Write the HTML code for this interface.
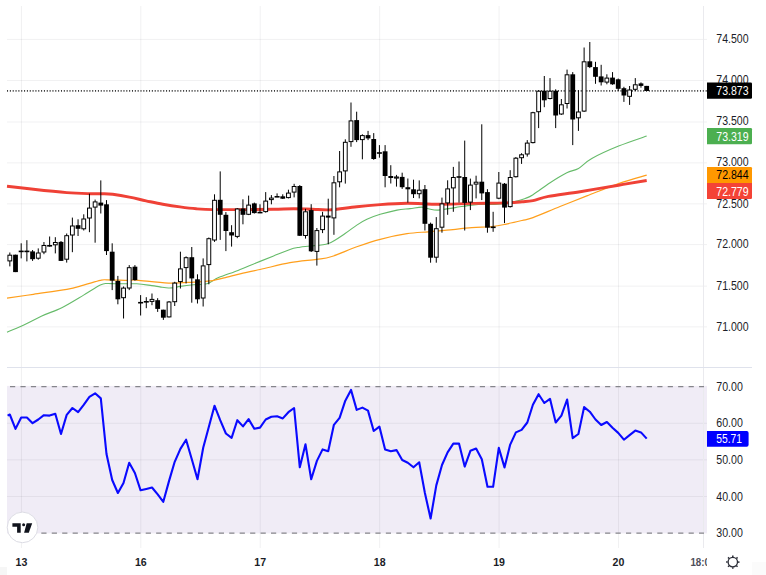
<!DOCTYPE html><html><head><meta charset="utf-8"><title>chart</title>
<style>html,body{margin:0;padding:0;background:#fff}svg{display:block}text{font-family:"Liberation Sans",sans-serif}</style></head><body>
<svg width="766" height="575" viewBox="0 0 766 575">
<rect width="766" height="575" fill="#fff"/>
<rect x="7" y="385.9" width="700" height="147.5" fill="#f0ecf6"/>
<g stroke="rgba(50,50,62,0.068)" stroke-width="1">
<line x1="21.45" y1="6" x2="21.45" y2="548"/>
<line x1="140.856" y1="6" x2="140.856" y2="548"/>
<line x1="260.262" y1="6" x2="260.262" y2="548"/>
<line x1="379.668" y1="6" x2="379.668" y2="548"/>
<line x1="499.074" y1="6" x2="499.074" y2="548"/>
<line x1="618.48" y1="6" x2="618.48" y2="548"/>
<line x1="7" y1="39.4" x2="707" y2="39.4"/>
<line x1="7" y1="80.5" x2="707" y2="80.5"/>
<line x1="7" y1="122.0" x2="707" y2="122.0"/>
<line x1="7" y1="162.9" x2="707" y2="162.9"/>
<line x1="7" y1="203.8" x2="707" y2="203.8"/>
<line x1="7" y1="244.6" x2="707" y2="244.6"/>
<line x1="7" y1="286.1" x2="707" y2="286.1"/>
<line x1="7" y1="326.9" x2="707" y2="326.9"/>
</g>
<g stroke="rgba(50,50,62,0.068)" stroke-width="1">
<line x1="7" y1="423.3" x2="707" y2="423.3"/>
<line x1="7" y1="459.9" x2="707" y2="459.9"/>
<line x1="7" y1="496.5" x2="707" y2="496.5"/>
</g>
<line x1="703.5" y1="6" x2="703.5" y2="548" stroke="#eaeaee" stroke-width="1"/>
<line x1="7" y1="367.5" x2="752" y2="367.5" stroke="#dfe2ec" stroke-width="1.2"/>
<g stroke="#85858b" stroke-width="1.25" stroke-dasharray="5.2 5.24">
<line x1="10" y1="386.5" x2="704" y2="386.5"/><line x1="10" y1="533.2" x2="704" y2="533.2"/></g>
<path fill="none" stroke="#66bb6a" stroke-width="1.1" d="M7.0 332.2 C9.4 331.2 15.9 328.8 21.7 326.1 C27.5 323.4 35.1 319.1 41.8 316.0 C48.5 312.9 54.8 311.2 61.8 307.7 C68.8 304.2 77.2 298.9 83.6 295.1 C90.0 291.3 96.4 287.0 100.3 285.1 C104.2 283.2 104.2 283.7 107.0 283.5 C109.8 283.3 112.0 283.8 117.0 283.8 C122.0 283.9 130.9 283.5 136.7 283.8 C142.5 284.1 147.9 285.1 151.8 285.6 C155.7 286.1 157.2 286.5 160.0 286.9 C162.8 287.3 166.1 287.9 168.5 288.0 C170.9 288.1 172.6 287.9 174.5 287.6 C176.4 287.3 177.0 286.9 180.2 286.4 C183.4 285.9 189.1 285.2 193.6 284.8 C198.1 284.4 202.8 285.0 207.0 283.8 C211.2 282.6 213.4 279.8 218.6 277.6 C223.8 275.4 231.8 272.8 238.0 270.4 C244.2 268.0 250.1 265.4 256.0 263.0 C261.9 260.6 267.9 258.2 273.6 255.9 C279.3 253.6 285.6 250.9 290.0 249.4 C294.4 247.9 296.7 247.8 300.0 247.2 C303.3 246.6 305.3 246.6 310.0 246.0 C314.7 245.4 322.5 245.6 328.4 243.5 C334.2 241.4 340.4 236.6 345.1 233.5 C349.8 230.4 353.2 227.5 356.8 225.1 C360.4 222.7 363.0 221.1 366.9 219.3 C370.8 217.5 375.2 215.8 380.2 214.3 C385.2 212.8 392.0 211.1 397.0 210.1 C402.0 209.1 405.9 209.1 410.0 208.6 C414.1 208.1 418.6 207.1 421.7 207.1 C424.8 207.1 425.6 208.3 428.4 208.8 C431.2 209.3 433.9 210.3 438.4 210.1 C442.8 209.9 449.5 208.4 455.1 207.6 C460.7 206.8 466.8 205.6 471.8 205.1 C476.8 204.6 480.7 204.4 485.2 204.3 C489.7 204.2 493.9 204.7 498.6 204.3 C503.3 203.9 509.2 202.8 513.6 201.8 C518.0 200.8 522.1 199.6 525.3 198.4 C528.5 197.2 528.9 197.3 533.0 194.7 C537.1 192.1 544.5 186.4 550.1 182.7 C555.7 179.0 562.1 175.1 566.8 172.7 C571.5 170.3 574.3 170.9 578.5 168.5 C582.7 166.1 585.1 162.2 591.8 158.5 C598.5 154.8 609.5 149.8 618.6 146.1 C627.8 142.4 642.0 137.8 646.7 136.1"/>
<path fill="none" stroke="#ff9f1c" stroke-width="1.2" d="M7.0 298.2 C11.4 297.6 23.4 295.8 33.4 294.3 C43.4 292.8 58.4 290.8 66.8 289.3 C75.2 287.8 78.0 286.6 83.6 285.1 C89.2 283.6 96.4 281.3 100.3 280.4 C104.2 279.5 102.4 279.8 107.0 279.8 C111.6 279.8 123.0 280.3 128.0 280.4 C132.9 280.4 129.9 279.7 136.7 280.1 C143.4 280.6 159.0 282.8 168.5 283.1 C178.0 283.4 186.6 282.5 193.6 282.1 C200.6 281.7 204.7 281.7 210.3 280.9 C215.9 280.1 222.4 278.2 227.0 277.1 C231.6 276.0 232.5 275.6 238.0 274.3 C243.5 273.0 251.3 271.4 260.0 269.5 C268.7 267.6 280.6 264.4 290.0 262.7 C299.4 261.0 309.7 260.4 316.7 259.4 C323.7 258.4 325.1 258.6 331.8 256.5 C338.5 254.4 348.7 249.7 356.8 246.8 C364.9 243.9 371.8 241.5 380.2 239.3 C388.6 237.1 399.0 234.9 407.0 233.7 C415.0 232.4 421.8 232.4 428.4 231.8 C435.0 231.2 439.6 230.9 446.8 230.2 C454.0 229.5 464.3 228.3 471.8 227.7 C479.3 227.1 486.3 227.1 491.9 226.5 C497.5 225.9 500.3 225.3 505.3 224.3 C510.3 223.3 517.4 221.6 522.0 220.5 C526.6 219.4 526.7 219.9 533.0 217.6 C539.3 215.3 551.0 210.1 560.0 206.5 C569.0 202.9 577.0 199.7 586.8 195.9 C596.6 192.1 608.6 187.1 618.6 183.6 C628.6 180.1 642.0 176.6 646.7 175.2"/>
<path fill="none" stroke="#ef4136" stroke-width="2.9" stroke-linejoin="round" d="M7.0 186.2 C11.4 186.7 23.4 188.1 33.4 189.2 C43.4 190.3 57.3 191.8 66.8 192.6 C76.3 193.3 84.3 193.5 90.2 193.7 C96.1 193.9 98.2 193.6 101.9 193.7 C105.7 193.8 108.1 193.7 112.7 194.3 C117.3 194.9 123.9 196.0 129.4 197.1 C135.0 198.2 140.4 199.6 146.0 200.8 C151.6 202.0 157.1 203.3 162.8 204.3 C168.5 205.3 174.4 206.2 180.0 206.9 C185.6 207.7 190.8 208.4 196.3 208.8 C201.8 209.2 205.7 209.5 213.0 209.6 C220.3 209.7 229.9 209.6 240.0 209.6 C250.1 209.6 264.6 209.4 273.5 209.3 C282.4 209.2 286.2 208.8 293.6 208.8 C301.0 208.8 311.6 209.3 318.0 209.5 C324.4 209.7 325.3 210.2 331.8 209.7 C338.3 209.2 348.7 207.5 356.8 206.7 C364.9 205.8 371.8 205.2 380.2 204.6 C388.6 204.0 397.3 203.4 407.0 203.3 C416.7 203.2 427.6 204.3 438.4 204.3 C449.2 204.3 460.6 203.6 471.8 203.4 C483.0 203.2 496.9 203.2 505.3 202.9 C513.7 202.6 517.4 202.2 522.0 201.8 C526.6 201.4 528.6 201.5 533.0 200.6 C537.4 199.7 540.5 197.9 548.4 196.4 C556.2 194.9 568.4 193.6 580.1 191.7 C591.8 189.8 607.5 187.1 618.6 185.2 C629.7 183.3 642.0 181.3 646.7 180.5"/>
<line x1="7" y1="90.9" x2="707" y2="90.9" stroke="#3a3a3a" stroke-width="1.65" stroke-dasharray="1.05 1.79"/>
<g stroke="#000" stroke-width="1">
<line x1="9.83" y1="252.5" x2="9.83" y2="266.4"/>
<rect x="7.93" y="255.2" width="3.80" height="5.7" fill="#fff"/>
<line x1="15.51" y1="254.7" x2="15.51" y2="272.1"/>
<rect x="13.11" y="254.7" width="4.80" height="17.4" fill="#000" stroke="none"/>
<line x1="21.20" y1="243.3" x2="21.20" y2="258.4"/>
<line x1="18.70" y1="251.4" x2="23.70" y2="251.4" stroke-width="1.6"/>
<line x1="26.89" y1="240.2" x2="26.89" y2="261.4"/>
<line x1="24.39" y1="251.4" x2="29.39" y2="251.4" stroke-width="1.6"/>
<line x1="32.57" y1="250.0" x2="32.57" y2="260.9"/>
<rect x="30.17" y="251.4" width="4.80" height="7.8" fill="#000" stroke="none"/>
<line x1="38.26" y1="248.4" x2="38.26" y2="259.7"/>
<rect x="36.36" y="253.0" width="3.80" height="5.2" fill="#fff"/>
<line x1="43.94" y1="242.0" x2="43.94" y2="254.2"/>
<rect x="42.04" y="245.5" width="3.80" height="6.5" fill="#fff"/>
<line x1="49.63" y1="236.5" x2="49.63" y2="246.7"/>
<line x1="47.13" y1="245.8" x2="52.13" y2="245.8" stroke-width="1.6"/>
<line x1="55.32" y1="237.2" x2="55.32" y2="253.4"/>
<rect x="53.42" y="242.5" width="3.80" height="2.3" fill="#fff"/>
<line x1="61.00" y1="241.0" x2="61.00" y2="260.9"/>
<rect x="58.60" y="241.9" width="4.80" height="19.0" fill="#000" stroke="none"/>
<line x1="66.69" y1="233.5" x2="66.69" y2="262.6"/>
<rect x="64.79" y="235.7" width="3.80" height="23.5" fill="#fff"/>
<line x1="72.37" y1="217.6" x2="72.37" y2="252.2"/>
<rect x="70.47" y="226.0" width="3.80" height="9.0" fill="#fff"/>
<line x1="78.06" y1="219.3" x2="78.06" y2="236.0"/>
<rect x="75.66" y="225.2" width="4.80" height="3.6" fill="#000" stroke="none"/>
<line x1="83.75" y1="214.3" x2="83.75" y2="230.5"/>
<rect x="81.85" y="219.0" width="3.80" height="9.8" fill="#fff"/>
<line x1="89.43" y1="193.7" x2="89.43" y2="232.2"/>
<rect x="87.53" y="208.1" width="3.80" height="9.9" fill="#fff"/>
<line x1="95.12" y1="199.6" x2="95.12" y2="242.7"/>
<rect x="93.22" y="201.9" width="3.80" height="5.2" fill="#fff"/>
<line x1="100.80" y1="180.4" x2="100.80" y2="213.5"/>
<rect x="98.40" y="202.6" width="4.80" height="3.0" fill="#000" stroke="none"/>
<line x1="106.49" y1="200.1" x2="106.49" y2="255.0"/>
<rect x="104.09" y="204.3" width="4.80" height="46.8" fill="#000" stroke="none"/>
<line x1="112.18" y1="243.3" x2="112.18" y2="290.1"/>
<rect x="109.78" y="251.7" width="4.80" height="28.9" fill="#000" stroke="none"/>
<line x1="117.86" y1="275.9" x2="117.86" y2="304.3"/>
<rect x="115.46" y="280.9" width="4.80" height="18.4" fill="#000" stroke="none"/>
<line x1="123.55" y1="286.5" x2="123.55" y2="318.5"/>
<rect x="121.65" y="288.1" width="3.80" height="9.6" fill="#fff"/>
<line x1="129.23" y1="265.1" x2="129.23" y2="290.1"/>
<rect x="127.33" y="267.7" width="3.80" height="20.3" fill="#fff"/>
<line x1="134.92" y1="265.1" x2="134.92" y2="280.6"/>
<rect x="132.52" y="266.7" width="4.80" height="13.4" fill="#000" stroke="none"/>
<line x1="140.61" y1="295.1" x2="140.61" y2="315.5"/>
<line x1="138.11" y1="302.7" x2="143.11" y2="302.7" stroke-width="1.6"/>
<line x1="146.29" y1="297.2" x2="146.29" y2="308.2"/>
<line x1="143.79" y1="301.8" x2="148.79" y2="301.8" stroke-width="1.6"/>
<line x1="151.98" y1="293.5" x2="151.98" y2="305.2"/>
<rect x="150.08" y="299.4" width="3.80" height="2.0" fill="#fff"/>
<line x1="157.66" y1="298.2" x2="157.66" y2="311.9"/>
<rect x="155.26" y="300.2" width="4.80" height="8.7" fill="#000" stroke="none"/>
<line x1="163.35" y1="309.7" x2="163.35" y2="319.9"/>
<rect x="160.95" y="309.7" width="4.80" height="8.0" fill="#000" stroke="none"/>
<line x1="169.04" y1="301.0" x2="169.04" y2="317.4"/>
<rect x="167.14" y="302.0" width="3.80" height="14.9" fill="#fff"/>
<line x1="174.72" y1="281.8" x2="174.72" y2="306.0"/>
<rect x="172.82" y="283.1" width="3.80" height="18.6" fill="#fff"/>
<line x1="180.41" y1="251.7" x2="180.41" y2="288.5"/>
<rect x="178.51" y="268.9" width="3.80" height="12.7" fill="#fff"/>
<line x1="186.09" y1="256.4" x2="186.09" y2="283.4"/>
<rect x="184.19" y="257.7" width="3.80" height="9.9" fill="#fff"/>
<line x1="191.78" y1="247.0" x2="191.78" y2="302.7"/>
<rect x="189.38" y="257.2" width="4.80" height="21.2" fill="#000" stroke="none"/>
<line x1="197.47" y1="274.3" x2="197.47" y2="303.5"/>
<rect x="195.07" y="279.3" width="4.80" height="20.0" fill="#000" stroke="none"/>
<line x1="203.15" y1="258.4" x2="203.15" y2="306.5"/>
<rect x="201.25" y="265.9" width="3.80" height="32.1" fill="#fff"/>
<line x1="208.84" y1="237.5" x2="208.84" y2="284.3"/>
<rect x="206.94" y="238.7" width="3.80" height="25.9" fill="#fff"/>
<line x1="214.52" y1="194.3" x2="214.52" y2="241.9"/>
<rect x="212.62" y="200.3" width="3.80" height="39.7" fill="#fff"/>
<line x1="220.21" y1="171.4" x2="220.21" y2="239.9"/>
<rect x="217.81" y="199.8" width="4.80" height="15.0" fill="#000" stroke="none"/>
<line x1="225.90" y1="212.1" x2="225.90" y2="251.1"/>
<rect x="223.50" y="214.8" width="4.80" height="16.2" fill="#000" stroke="none"/>
<line x1="231.58" y1="225.2" x2="231.58" y2="246.6"/>
<rect x="229.18" y="232.2" width="4.80" height="3.3" fill="#000" stroke="none"/>
<line x1="237.27" y1="208.1" x2="237.27" y2="238.2"/>
<rect x="235.37" y="209.0" width="3.80" height="27.4" fill="#fff"/>
<line x1="242.95" y1="199.3" x2="242.95" y2="224.3"/>
<rect x="240.55" y="208.5" width="4.80" height="6.3" fill="#000" stroke="none"/>
<line x1="248.64" y1="195.6" x2="248.64" y2="215.1"/>
<rect x="246.74" y="205.1" width="3.80" height="9.2" fill="#fff"/>
<line x1="254.33" y1="202.6" x2="254.33" y2="213.5"/>
<rect x="251.93" y="203.4" width="4.80" height="9.7" fill="#000" stroke="none"/>
<line x1="260.01" y1="204.3" x2="260.01" y2="213.1"/>
<line x1="257.51" y1="212.6" x2="262.51" y2="212.6" stroke-width="1.6"/>
<line x1="265.70" y1="192.1" x2="265.70" y2="212.6"/>
<rect x="263.80" y="201.1" width="3.80" height="10.5" fill="#fff"/>
<line x1="271.38" y1="195.1" x2="271.38" y2="204.3"/>
<rect x="269.48" y="198.1" width="3.80" height="1.5" fill="#fff"/>
<line x1="277.07" y1="193.4" x2="277.07" y2="197.1"/>
<line x1="274.57" y1="196.8" x2="279.57" y2="196.8" stroke-width="1.6"/>
<line x1="282.76" y1="194.3" x2="282.76" y2="199.0"/>
<rect x="280.36" y="196.3" width="4.80" height="2.4" fill="#000" stroke="none"/>
<line x1="288.44" y1="189.7" x2="288.44" y2="198.4"/>
<rect x="286.54" y="193.1" width="3.80" height="4.5" fill="#fff"/>
<line x1="294.13" y1="183.8" x2="294.13" y2="197.4"/>
<rect x="292.23" y="186.5" width="3.80" height="5.6" fill="#fff"/>
<line x1="299.81" y1="185.1" x2="299.81" y2="236.0"/>
<rect x="297.41" y="186.0" width="4.80" height="49.8" fill="#000" stroke="none"/>
<line x1="305.50" y1="208.8" x2="305.50" y2="238.6"/>
<rect x="303.60" y="211.8" width="3.80" height="23.7" fill="#fff"/>
<line x1="311.19" y1="204.2" x2="311.19" y2="252.0"/>
<rect x="308.79" y="210.1" width="4.80" height="41.2" fill="#000" stroke="none"/>
<line x1="316.87" y1="228.0" x2="316.87" y2="265.6"/>
<rect x="314.97" y="230.6" width="3.80" height="20.8" fill="#fff"/>
<line x1="322.56" y1="211.8" x2="322.56" y2="233.1"/>
<rect x="320.66" y="216.1" width="3.80" height="13.5" fill="#fff"/>
<line x1="328.24" y1="198.7" x2="328.24" y2="244.3"/>
<rect x="325.84" y="215.6" width="4.80" height="2.0" fill="#000" stroke="none"/>
<line x1="333.93" y1="176.0" x2="333.93" y2="234.8"/>
<rect x="332.03" y="182.8" width="3.80" height="35.1" fill="#fff"/>
<line x1="339.62" y1="151.0" x2="339.62" y2="187.3"/>
<rect x="337.72" y="171.9" width="3.80" height="9.9" fill="#fff"/>
<line x1="345.30" y1="139.3" x2="345.30" y2="183.6"/>
<rect x="343.40" y="142.3" width="3.80" height="28.6" fill="#fff"/>
<line x1="350.99" y1="102.5" x2="350.99" y2="146.8"/>
<rect x="349.09" y="120.9" width="3.80" height="20.7" fill="#fff"/>
<line x1="356.67" y1="111.7" x2="356.67" y2="142.1"/>
<rect x="354.27" y="120.1" width="4.80" height="20.0" fill="#000" stroke="none"/>
<line x1="362.36" y1="134.3" x2="362.36" y2="159.3"/>
<rect x="360.46" y="135.6" width="3.80" height="4.0" fill="#fff"/>
<line x1="368.05" y1="130.9" x2="368.05" y2="140.1"/>
<rect x="365.65" y="135.1" width="4.80" height="3.3" fill="#000" stroke="none"/>
<line x1="373.73" y1="133.1" x2="373.73" y2="159.8"/>
<rect x="371.33" y="139.0" width="4.80" height="20.0" fill="#000" stroke="none"/>
<line x1="379.42" y1="145.1" x2="379.42" y2="157.7"/>
<line x1="376.92" y1="153.0" x2="381.92" y2="153.0" stroke-width="1.6"/>
<line x1="385.10" y1="145.1" x2="385.10" y2="187.3"/>
<rect x="382.70" y="151.3" width="4.80" height="24.7" fill="#000" stroke="none"/>
<line x1="390.79" y1="165.2" x2="390.79" y2="183.5"/>
<rect x="388.39" y="176.0" width="4.80" height="2.0" fill="#000" stroke="none"/>
<line x1="396.48" y1="174.9" x2="396.48" y2="186.6"/>
<rect x="394.58" y="177.0" width="3.80" height="1.1" fill="#fff"/>
<line x1="402.16" y1="172.7" x2="402.16" y2="188.9"/>
<rect x="399.76" y="176.9" width="4.80" height="10.3" fill="#000" stroke="none"/>
<line x1="407.85" y1="178.5" x2="407.85" y2="202.6"/>
<rect x="405.45" y="187.2" width="4.80" height="2.1" fill="#000" stroke="none"/>
<line x1="413.53" y1="179.7" x2="413.53" y2="198.0"/>
<rect x="411.13" y="189.3" width="4.80" height="4.9" fill="#000" stroke="none"/>
<line x1="419.22" y1="180.4" x2="419.22" y2="198.4"/>
<rect x="417.32" y="190.2" width="3.80" height="3.5" fill="#fff"/>
<line x1="424.91" y1="185.0" x2="424.91" y2="230.5"/>
<rect x="422.51" y="189.2" width="4.80" height="34.6" fill="#000" stroke="none"/>
<line x1="430.59" y1="222.6" x2="430.59" y2="262.7"/>
<rect x="428.19" y="223.8" width="4.80" height="33.9" fill="#000" stroke="none"/>
<line x1="436.28" y1="217.1" x2="436.28" y2="262.7"/>
<rect x="434.38" y="228.7" width="3.80" height="28.5" fill="#fff"/>
<line x1="441.96" y1="197.6" x2="441.96" y2="232.7"/>
<rect x="440.06" y="203.9" width="3.80" height="23.3" fill="#fff"/>
<line x1="447.65" y1="180.3" x2="447.65" y2="214.8"/>
<rect x="445.75" y="188.9" width="3.80" height="14.0" fill="#fff"/>
<line x1="453.34" y1="166.9" x2="453.34" y2="211.8"/>
<rect x="451.44" y="177.5" width="3.80" height="10.4" fill="#fff"/>
<line x1="459.02" y1="161.5" x2="459.02" y2="202.6"/>
<line x1="456.52" y1="177.0" x2="461.52" y2="177.0" stroke-width="1.6"/>
<line x1="464.71" y1="140.6" x2="464.71" y2="230.5"/>
<rect x="462.31" y="177.0" width="4.80" height="25.9" fill="#000" stroke="none"/>
<line x1="470.39" y1="178.6" x2="470.39" y2="210.1"/>
<rect x="468.49" y="185.1" width="3.80" height="17.0" fill="#fff"/>
<line x1="476.08" y1="175.7" x2="476.08" y2="198.4"/>
<rect x="474.18" y="182.2" width="3.80" height="1.9" fill="#fff"/>
<line x1="481.77" y1="124.3" x2="481.77" y2="200.1"/>
<rect x="479.37" y="181.7" width="4.80" height="11.7" fill="#000" stroke="none"/>
<line x1="487.45" y1="189.2" x2="487.45" y2="232.7"/>
<rect x="485.05" y="192.1" width="4.80" height="35.6" fill="#000" stroke="none"/>
<line x1="493.14" y1="211.8" x2="493.14" y2="231.8"/>
<line x1="490.64" y1="227.3" x2="495.64" y2="227.3" stroke-width="1.6"/>
<line x1="498.82" y1="172.0" x2="498.82" y2="199.2"/>
<rect x="496.92" y="183.1" width="3.80" height="15.1" fill="#fff"/>
<line x1="504.51" y1="183.0" x2="504.51" y2="223.1"/>
<rect x="502.11" y="183.7" width="4.80" height="23.9" fill="#000" stroke="none"/>
<line x1="510.20" y1="170.2" x2="510.20" y2="207.5"/>
<rect x="508.30" y="177.5" width="3.80" height="29.1" fill="#fff"/>
<line x1="515.88" y1="157.0" x2="515.88" y2="177.5"/>
<rect x="513.98" y="158.2" width="3.80" height="18.5" fill="#fff"/>
<line x1="521.57" y1="153.2" x2="521.57" y2="163.9"/>
<rect x="519.67" y="154.8" width="3.80" height="2.9" fill="#fff"/>
<line x1="527.25" y1="140.1" x2="527.25" y2="156.6"/>
<rect x="525.35" y="143.1" width="3.80" height="10.9" fill="#fff"/>
<line x1="532.94" y1="111.8" x2="532.94" y2="143.4"/>
<rect x="531.04" y="112.7" width="3.80" height="29.9" fill="#fff"/>
<line x1="538.63" y1="90.2" x2="538.63" y2="128.1"/>
<rect x="536.73" y="91.2" width="3.80" height="20.5" fill="#fff"/>
<line x1="544.31" y1="76.0" x2="544.31" y2="107.2"/>
<rect x="541.91" y="90.7" width="4.80" height="9.6" fill="#000" stroke="none"/>
<line x1="550.00" y1="78.1" x2="550.00" y2="99.4"/>
<rect x="548.10" y="91.2" width="3.80" height="7.3" fill="#fff"/>
<line x1="555.68" y1="89.3" x2="555.68" y2="128.1"/>
<rect x="553.28" y="90.7" width="4.80" height="24.8" fill="#000" stroke="none"/>
<line x1="561.37" y1="99.0" x2="561.37" y2="114.9"/>
<rect x="559.47" y="104.8" width="3.80" height="9.2" fill="#fff"/>
<line x1="567.06" y1="69.6" x2="567.06" y2="108.5"/>
<rect x="565.16" y="74.8" width="3.80" height="28.7" fill="#fff"/>
<line x1="572.74" y1="72.1" x2="572.74" y2="145.1"/>
<rect x="570.34" y="74.3" width="4.80" height="45.2" fill="#000" stroke="none"/>
<line x1="578.43" y1="90.2" x2="578.43" y2="130.9"/>
<rect x="576.53" y="112.0" width="3.80" height="5.8" fill="#fff"/>
<line x1="584.11" y1="47.5" x2="584.11" y2="111.9"/>
<rect x="582.21" y="61.8" width="3.80" height="49.3" fill="#fff"/>
<line x1="589.80" y1="42.0" x2="589.80" y2="68.1"/>
<rect x="587.40" y="61.3" width="4.80" height="5.8" fill="#000" stroke="none"/>
<line x1="595.49" y1="61.8" x2="595.49" y2="83.8"/>
<rect x="593.09" y="67.1" width="4.80" height="9.7" fill="#000" stroke="none"/>
<line x1="601.17" y1="64.8" x2="601.17" y2="85.5"/>
<rect x="598.77" y="76.4" width="4.80" height="5.9" fill="#000" stroke="none"/>
<line x1="606.86" y1="74.3" x2="606.86" y2="84.3"/>
<rect x="604.96" y="78.1" width="3.80" height="4.0" fill="#fff"/>
<line x1="612.54" y1="72.1" x2="612.54" y2="84.8"/>
<rect x="610.14" y="77.6" width="4.80" height="6.7" fill="#000" stroke="none"/>
<line x1="618.23" y1="78.5" x2="618.23" y2="91.0"/>
<rect x="615.83" y="79.3" width="4.80" height="9.5" fill="#000" stroke="none"/>
<line x1="623.92" y1="86.8" x2="623.92" y2="101.9"/>
<rect x="621.52" y="88.2" width="4.80" height="7.3" fill="#000" stroke="none"/>
<line x1="629.60" y1="86.0" x2="629.60" y2="104.9"/>
<rect x="627.70" y="90.0" width="3.80" height="6.3" fill="#fff"/>
<line x1="635.29" y1="78.1" x2="635.29" y2="91.0"/>
<rect x="633.39" y="84.8" width="3.80" height="4.5" fill="#fff"/>
<line x1="640.97" y1="82.4" x2="640.97" y2="87.7"/>
<rect x="638.57" y="83.4" width="4.80" height="2.5" fill="#000" stroke="none"/>
<line x1="646.66" y1="85.9" x2="646.66" y2="91.0"/>
<rect x="644.26" y="85.9" width="4.80" height="5.1" fill="#000" stroke="none"/>
</g>
<polyline fill="none" stroke="#0a0aff" stroke-width="2.1" stroke-linejoin="round" points="7.6,415.6 9.8,414.5 15.5,428.9 21.2,417.5 26.9,417.5 32.6,423.2 38.3,419.5 43.9,415.2 49.6,415.6 55.3,413.8 61.0,434.0 66.7,414.9 72.4,408.0 78.1,412.2 83.7,404.8 89.4,396.8 95.1,393.3 100.8,398.4 106.5,454.0 112.2,480.0 117.9,493.0 123.5,483.0 129.2,462.7 134.9,473.0 140.6,490.3 146.3,488.9 152.0,487.5 157.7,494.4 163.3,501.8 169.0,481.1 174.7,461.8 180.4,448.9 186.1,439.7 191.8,459.3 197.5,479.3 203.2,447.8 208.8,427.1 214.5,405.7 220.2,420.2 225.9,433.5 231.6,437.9 237.3,420.2 243.0,426.4 248.6,419.1 254.3,428.7 260.0,427.6 265.7,419.5 271.4,416.8 277.1,416.3 282.8,418.4 288.4,412.2 294.1,408.0 299.8,467.3 305.5,444.3 311.2,479.3 316.9,460.9 322.6,449.4 328.2,451.2 333.9,424.8 339.6,417.9 345.3,400.7 351.0,389.9 356.7,409.9 362.4,407.6 368.0,410.6 373.7,431.0 379.4,426.6 385.1,449.4 390.8,451.2 396.5,450.1 402.2,460.0 407.8,462.7 413.5,467.3 419.2,462.3 424.9,493.0 430.6,518.5 436.3,485.4 442.0,465.0 447.6,452.4 453.3,443.6 459.0,443.6 464.7,466.6 470.4,450.8 476.1,448.5 481.8,459.3 487.5,486.8 493.1,486.8 498.8,447.9 504.5,467.4 510.2,444.6 515.9,432.4 521.6,429.9 527.3,422.5 532.9,404.8 538.6,394.2 544.3,403.0 550.0,398.8 555.7,422.5 561.4,415.6 567.1,399.5 572.7,438.1 578.4,434.0 584.1,407.1 589.8,411.7 595.5,419.5 601.2,425.0 606.9,422.0 612.5,427.8 618.2,432.9 623.9,439.7 629.6,435.1 635.3,430.6 641.0,432.4 646.7,438.6"/>
<text x="716.3" y="42.75" font-size="12" fill="#1b1d27" font-weight="normal" textLength="32.3" lengthAdjust="spacingAndGlyphs">74.500</text>
<text x="716.3" y="84.15" font-size="12" fill="#1b1d27" font-weight="normal" textLength="32.3" lengthAdjust="spacingAndGlyphs">74.000</text>
<text x="716.3" y="125.45" font-size="12" fill="#1b1d27" font-weight="normal" textLength="32.3" lengthAdjust="spacingAndGlyphs">73.500</text>
<text x="716.3" y="166.25" font-size="12" fill="#1b1d27" font-weight="normal" textLength="32.3" lengthAdjust="spacingAndGlyphs">73.000</text>
<text x="716.3" y="207.55" font-size="12" fill="#1b1d27" font-weight="normal" textLength="32.3" lengthAdjust="spacingAndGlyphs">72.500</text>
<text x="716.3" y="248.45" font-size="12" fill="#1b1d27" font-weight="normal" textLength="32.3" lengthAdjust="spacingAndGlyphs">72.000</text>
<text x="716.3" y="289.85" font-size="12" fill="#1b1d27" font-weight="normal" textLength="32.3" lengthAdjust="spacingAndGlyphs">71.500</text>
<text x="716.3" y="330.95" font-size="12" fill="#1b1d27" font-weight="normal" textLength="32.3" lengthAdjust="spacingAndGlyphs">71.000</text>
<text x="716.3" y="390.70" font-size="12" fill="#1b1d27" font-weight="normal" textLength="26.6" lengthAdjust="spacingAndGlyphs">70.00</text>
<text x="716.3" y="426.70" font-size="12" fill="#1b1d27" font-weight="normal" textLength="26.6" lengthAdjust="spacingAndGlyphs">60.00</text>
<text x="716.3" y="463.65" font-size="12" fill="#1b1d27" font-weight="normal" textLength="26.6" lengthAdjust="spacingAndGlyphs">50.00</text>
<text x="716.3" y="500.85" font-size="12" fill="#1b1d27" font-weight="normal" textLength="26.6" lengthAdjust="spacingAndGlyphs">40.00</text>
<text x="716.3" y="536.85" font-size="12" fill="#1b1d27" font-weight="normal" textLength="26.6" lengthAdjust="spacingAndGlyphs">30.00</text>
<path d="M707 82.50 H750.7 a1.3 1.3 0 0 1 1.3 1.3 V97.40 a1.3 1.3 0 0 1 -1.3 1.3 H707 Z" fill="#000"/>
<text x="716.3" y="95.40" font-size="12" fill="#fff" font-weight="normal" textLength="32.3" lengthAdjust="spacingAndGlyphs">73.873</text>
<path d="M707 128.05 H750.7 a1.3 1.3 0 0 1 1.3 1.3 V142.95 a1.3 1.3 0 0 1 -1.3 1.3 H707 Z" fill="#4caf50"/>
<text x="716.3" y="140.50" font-size="12" fill="#fff" font-weight="normal" textLength="32.3" lengthAdjust="spacingAndGlyphs">73.319</text>
<path d="M707 166.90 H750.7 a1.3 1.3 0 0 1 1.3 1.3 V183.10 H707 Z" fill="#ff9800"/>
<text x="716.3" y="179.25" font-size="12" fill="#000" font-weight="normal" textLength="32.3" lengthAdjust="spacingAndGlyphs">72.844</text>
<path d="M707 182.90 H752 V197.80 a1.3 1.3 0 0 1 -1.3 1.3 H707 Z" fill="#f44336"/>
<text x="716.3" y="195.65" font-size="12" fill="#fff" font-weight="normal" textLength="32.3" lengthAdjust="spacingAndGlyphs">72.779</text>
<path d="M707 431.10 H746.6 a2 2 0 0 1 2 2 V444.80 a2 2 0 0 1 -2 2 H707 Z" fill="#0000ff"/>
<text x="716.3" y="443.20" font-size="12" fill="#fff" font-weight="normal" textLength="25.7" lengthAdjust="spacingAndGlyphs">55.71</text>
<text x="21.45" y="565.5" font-size="11" font-weight="bold" fill="#1b1d27" text-anchor="middle" textLength="11.8" lengthAdjust="spacingAndGlyphs">13</text>
<text x="140.856" y="565.5" font-size="11" font-weight="bold" fill="#1b1d27" text-anchor="middle" textLength="11.8" lengthAdjust="spacingAndGlyphs">16</text>
<text x="260.262" y="565.5" font-size="11" font-weight="bold" fill="#1b1d27" text-anchor="middle" textLength="11.8" lengthAdjust="spacingAndGlyphs">17</text>
<text x="379.668" y="565.5" font-size="11" font-weight="bold" fill="#1b1d27" text-anchor="middle" textLength="11.8" lengthAdjust="spacingAndGlyphs">18</text>
<text x="499.074" y="565.5" font-size="11" font-weight="bold" fill="#1b1d27" text-anchor="middle" textLength="11.8" lengthAdjust="spacingAndGlyphs">19</text>
<text x="618.48" y="565.5" font-size="11" font-weight="bold" fill="#1b1d27" text-anchor="middle" textLength="11.8" lengthAdjust="spacingAndGlyphs">20</text>
<clipPath id="c"><rect x="680" y="550" width="27" height="25"/></clipPath>
<text x="690.4" y="566.1" font-size="11" font-weight="bold" fill="#4c4e5a" clip-path="url(#c)" textLength="25" lengthAdjust="spacingAndGlyphs">18:00</text>
<g transform="translate(732.8 562.1)" stroke="#2a2c36" fill="none"><circle r="4.7" stroke-width="1.3"/>
<line x1="5.20" y1="0.00" x2="6.70" y2="0.00" stroke-width="1.5"/>
<line x1="3.68" y1="3.68" x2="4.74" y2="4.74" stroke-width="1.5"/>
<line x1="0.00" y1="5.20" x2="0.00" y2="6.70" stroke-width="1.5"/>
<line x1="-3.68" y1="3.68" x2="-4.74" y2="4.74" stroke-width="1.5"/>
<line x1="-5.20" y1="0.00" x2="-6.70" y2="0.00" stroke-width="1.5"/>
<line x1="-3.68" y1="-3.68" x2="-4.74" y2="-4.74" stroke-width="1.5"/>
<line x1="-0.00" y1="-5.20" x2="-0.00" y2="-6.70" stroke-width="1.5"/>
<line x1="3.68" y1="-3.68" x2="4.74" y2="-4.74" stroke-width="1.5"/>
</g>
<circle cx="22.5" cy="527.4" r="15.3" fill="#fff" stroke="#dcdce4" stroke-width="1"/>
<g fill="#10131c"><path d="M12.4 523.2H20.7V532.8H17.1V526.7H12.4Z"/><circle cx="23.65" cy="524.7" r="1.5"/><path d="M26.7 523.2H32.2L28.8 532.8H24.1Z"/></g>
<rect x="0" y="567" width="7" height="8" fill="#f6f6f6"/><rect x="752" y="562" width="14" height="13" fill="#fbfbfb"/>
</svg></body></html>
